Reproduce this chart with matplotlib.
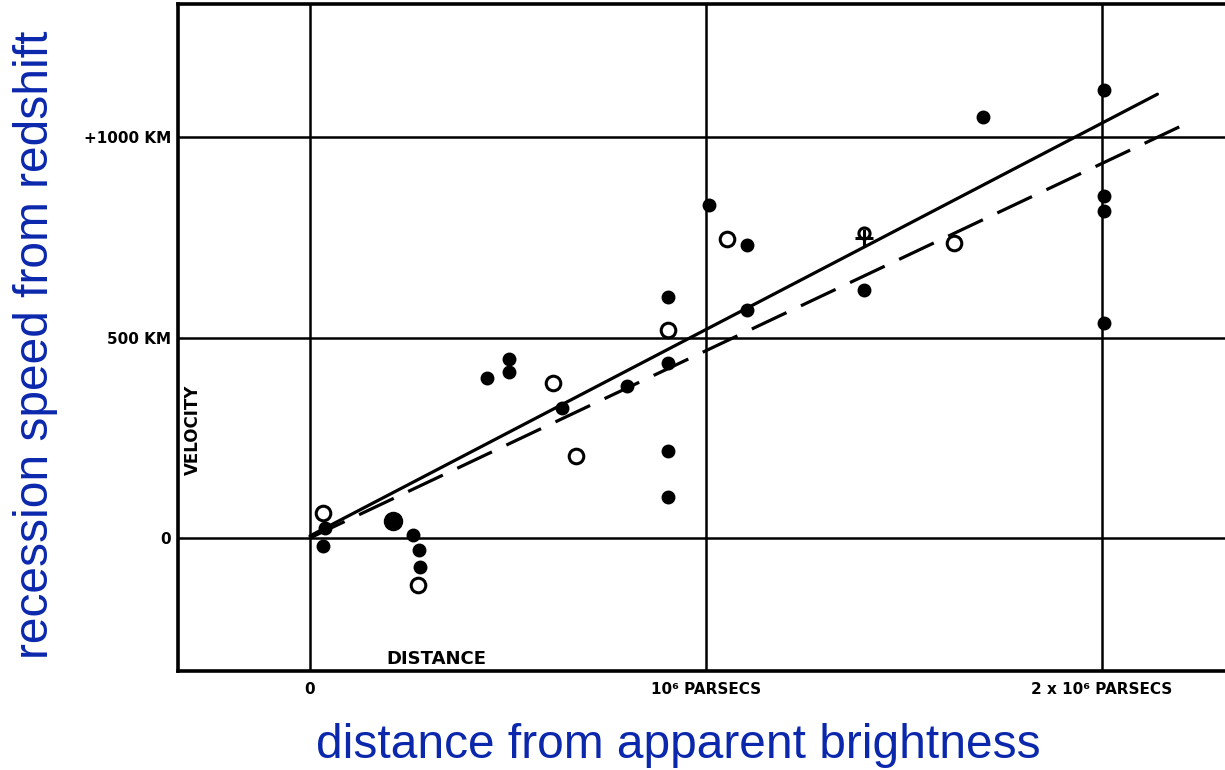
import matplotlib.pyplot as plt

# distances in units of 10^6 parsecs, velocities in km/s
filled_dist = [0.037, 0.033, 0.261, 0.276, 0.278, 0.448, 0.503, 0.503, 0.636, 0.801,
               0.904, 0.905, 0.905, 0.904, 1.007, 1.103, 1.103, 1.400, 1.700,
               2.004, 2.004, 2.004, 2.004]
filled_vel = [25, -20, 7, -30, -73, 398, 446, 415, 323, 379,
              436, 217, 103, 601, 830, 731, 569, 618, 1051,
              1117, 853, 816, 537]

big_dist = [0.210]
big_vel = [41]

open_dist = [0.033, 0.274, 0.613, 0.673, 0.905, 1.053, 1.627]
open_vel = [62, -117, 387, 204, 519, 745, 735]

cross_dist = [1.400]
cross_vel = [760]

solid_dist = [0.0, 2.14]
solid_vel = [5, 1107]
dashed_dist = [0.0, 2.205]
dashed_vel = [0, 1030]

xticks = [0, 1, 2]
xtick_labels = ['0', '10⁶ PARSECS', '2 x 10⁶ PARSECS']
yticks = [0, 500, 1000]
ytick_labels = ['0', '500 KM', '+1000 KM']

blue = '#0b28ad'

fig = plt.figure(figsize=(12.25, 7.7), dpi=100)
ax = fig.add_axes([178/1225, 1 - 671/770, (1240 - 178)/1225, (671 - 4)/770])

ax.set_xlim(-0.3333, (1240 - 310)/396)
ax.set_ylim(-332, 1332)

# grid lines
for x in xticks:
    ax.axvline(x, color='black', lw=1.8, zorder=1)
for y in yticks:
    ax.axhline(y, color='black', lw=1.8, zorder=1)

for s in ax.spines.values():
    s.set_linewidth(2.6)
    s.set_color('black')

# fitted lines
ax.plot(solid_dist, solid_vel, color='black', lw=2.3, solid_capstyle='round', zorder=2)
ln, = ax.plot(dashed_dist, dashed_vel, color='black', lw=2.3, zorder=2)
ln.set_dashes([12, 5])

# data points
ax.plot(filled_dist, filled_vel, 'o', color='black', ms=9, zorder=3)
ax.plot(big_dist, big_vel, 'o', color='black', ms=13, zorder=3)
ax.plot(open_dist, open_vel, 'o', mfc='white', mec='black', mew=2.2, ms=10.5, zorder=3)
ax.plot(cross_dist, cross_vel, 'o', mfc='white', mec='black', mew=2.2, ms=8, zorder=3)
ax.plot(cross_dist, [v - 12 for v in cross_vel], '+', color='black', mew=2.2, ms=13, zorder=4)

ax.set_xticks(xticks)
ax.set_xticklabels(xtick_labels, fontsize=11, fontweight='heavy', family='DejaVu Sans')
ax.set_yticks(yticks)
ax.set_yticklabels(ytick_labels, fontsize=11, fontweight='heavy', family='DejaVu Sans')
ax.tick_params(axis='both', length=0)
ax.tick_params(axis='x', pad=8)
ax.tick_params(axis='y', pad=5)

ax.text(-0.295, 269, 'VELOCITY', rotation=90, ha='center', va='center',
        fontsize=12, fontweight='heavy')
ax.text(0.318, -302, 'DISTANCE', ha='center', va='center',
        fontsize=13, fontweight='heavy')

fig.text(36/1225, 1 - 345/770, 'recession speed from redshift', rotation=90,
         ha='center', va='center', fontsize=34.5, color=blue, family='Liberation Sans')
fig.text(678/1225, 1 - 745/770, 'distance from apparent brightness',
         ha='center', va='center', fontsize=34.5, color=blue, family='Liberation Sans')

fig.savefig('out.png', dpi=100)
